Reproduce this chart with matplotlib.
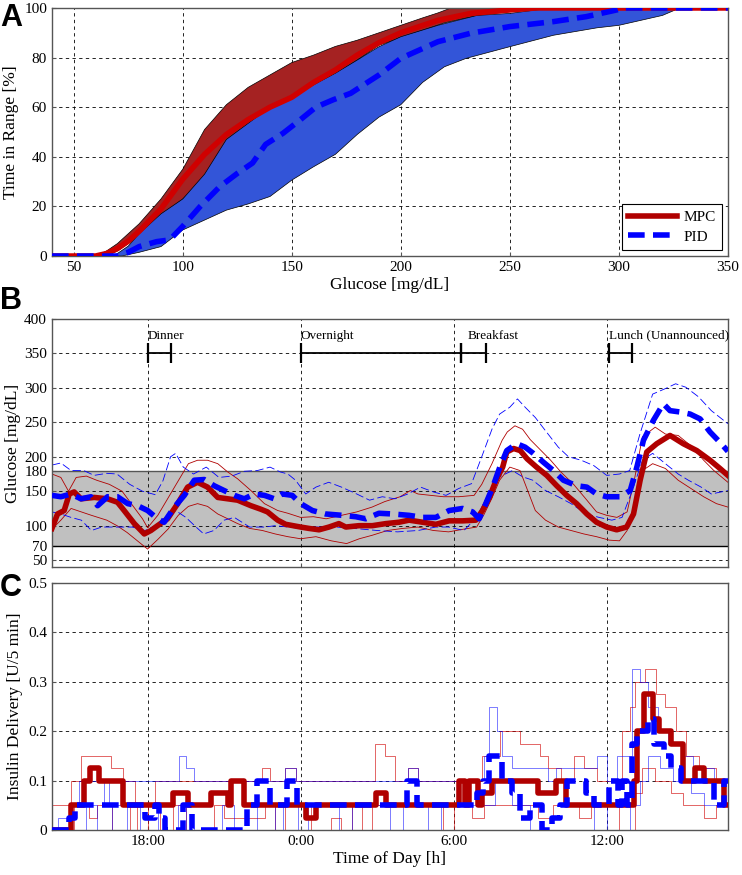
import matplotlib
matplotlib.use("Agg")
import matplotlib.pyplot as plt
from matplotlib.lines import Line2D

plt.rcParams["font.family"] = ["Liberation Serif", "DejaVu Serif"]
plt.rcParams["font.size"] = 11

# ---- panel A: cumulative time in range vs glucose ----
mpc_up_x = [40, 60, 65, 70, 75, 80, 90, 100, 110, 120, 130, 140, 150, 160, 170, 180, 190, 200, 210, 217, 223, 350]
mpc_up_y = [0, 0, 2, 5, 9, 13, 23, 35, 51, 61, 68, 73, 78, 81, 84.5, 87, 90, 93, 96, 98, 100, 100]
mpc_med_x = [40, 60, 65, 70, 75, 80, 90, 100, 110, 120, 130, 140, 150, 160, 170, 180, 190, 200, 217, 232, 250, 262, 350]
mpc_med_y = [0, 0, 1, 3, 6, 10, 19, 31, 41, 49, 55, 60, 64, 70, 75, 81, 86, 90, 95, 97.8, 99.2, 100, 100]
mpc_lo_x = [40, 65, 70, 75, 80, 90, 100, 110, 120, 130, 140, 150, 160, 170, 180, 190, 200, 210, 220, 230, 240, 250, 260, 270, 350]
mpc_lo_y = [0, 0, 2, 5, 8, 16, 23, 31, 44, 52, 59, 63, 68, 73, 79, 85, 88, 91, 94, 96, 97.5, 98.5, 99.5, 100, 100]

pid_up_x = [40, 68, 70, 75, 80, 90, 100, 110, 120, 130, 140, 150, 160, 170, 180, 190, 200, 217, 235, 250, 262, 272, 350]
pid_up_y = [0, 0, 1, 4, 9, 17, 23, 33, 47, 53.5, 60, 64, 69, 73.7, 79, 84.4, 88.4, 93, 97, 97.8, 99.2, 100, 100]
pid_med_x = [40, 70, 75, 80, 88, 94, 100, 108, 117, 125, 132, 138, 146, 154, 161, 169, 177, 184, 190, 200, 217, 232, 250, 270, 285, 299, 302, 350]
pid_med_y = [0, 0, 1.5, 3.8, 5.8, 6.5, 12, 20, 28, 33.3, 37.5, 45, 49.5, 55, 60, 63, 65.6, 69.6, 73, 79.7, 86.4, 89.8, 92.5, 94.5, 96.5, 99.2, 100, 100]
pid_lo_x = [40, 72, 80, 90, 100, 110, 120, 130, 140, 150, 160, 170, 180, 190, 200, 210, 220, 230, 250, 270, 290, 300, 310, 320, 328, 350]
pid_lo_y = [0, 0, 1.5, 3.8, 10.5, 14.5, 18.5, 21, 24, 30.6, 36, 41, 49, 56, 61, 70, 76.3, 79.7, 84.4, 89, 92, 93, 95, 97, 100, 100]

# ---- panel B: glucose over the day (hours, 24 = midnight) ----
mpc_t = [14.25, 14.47, 14.73, 14.93, 15.12, 15.39, 15.91, 16.43, 16.82, 17.08, 17.48, 17.87, 18.13, 18.39, 18.78,
         19.18, 19.57, 19.96, 20.35, 20.75, 21.14, 21.53, 22.05, 22.43, 22.7, 23.1, 23.41, 24.0, 24.33, 24.72,
         25.11, 25.5, 25.77, 26.29, 26.81, 27.34, 27.86, 28.25, 28.78, 29.3, 29.82, 30.35, 30.87, 31.13, 31.4,
         31.66, 31.92, 32.08, 32.35, 32.61, 32.88, 33.25, 33.65, 34.04, 34.43, 34.82, 35.22, 35.6, 36.0, 36.39,
         36.78, 37.05, 37.31, 37.57, 37.96, 38.48, 39.0, 39.53, 40.05, 40.44, 40.75]
mpc_g = [96, 117, 122, 146, 149, 139, 141, 139, 134, 122, 103, 88, 93, 100, 110,
         132, 156, 163, 156, 141, 139, 137, 129, 124, 120, 108, 102, 98, 96, 94,
         98, 103, 98, 100, 100, 103, 105, 108, 105, 102, 107, 107, 108, 122, 141,
         166, 185, 207, 212, 209, 197, 185, 173, 158, 144, 132, 117, 105, 98, 94,
         98, 117, 166, 207, 219, 231, 219, 209, 195, 183, 173]

pid_t = [14.25, 14.6, 14.99, 15.39, 15.78, 16.04, 16.43, 16.82, 17.22, 17.61, 18.0, 18.39, 18.65, 19.05, 19.44,
         19.83, 20.22, 20.61, 21.0, 21.4, 21.79, 22.18, 22.58, 22.97, 23.28, 23.67, 24.0, 24.46, 24.98, 25.64,
         26.16, 26.55, 27.07, 27.6, 28.25, 28.78, 29.3, 29.82, 30.35, 30.74, 31.0, 31.26, 31.53, 31.79, 32.08,
         32.47, 32.8, 33.12, 33.52, 33.91, 34.3, 34.82, 35.22, 35.6, 36.0, 36.52, 36.92, 37.18, 37.44, 37.83,
         38.22, 38.48, 38.88, 39.27, 39.66, 40.05, 40.44, 40.75]
pid_g = [144, 142, 146, 139, 142, 129, 142, 142, 132, 129, 122, 110, 105, 127, 144,
         166, 167, 158, 151, 144, 139, 146, 144, 139, 146, 144, 132, 122, 117, 115,
         113, 110, 118, 117, 115, 112, 112, 122, 125, 120, 110, 132, 156, 183, 209,
         219, 214, 205, 192, 180, 166, 158, 156, 146, 142, 142, 151, 185, 224, 253,
         277, 267, 265, 262, 255, 236, 221, 208]

mpc_hi_t = [14.25, 14.6, 14.9, 15.2, 15.6, 16.0, 16.5, 17.0, 17.4, 17.8, 18.0, 18.4, 18.8, 19.2, 19.6, 19.96,
            20.35, 20.75, 21.14, 21.53, 22.05, 22.58, 23.1, 23.5, 24.0, 24.5, 25.0, 25.6, 26.2, 26.8, 27.3,
            27.9, 28.3, 28.6, 29.1, 29.6, 30.2, 30.8, 31.1, 31.5, 31.9, 32.1, 32.4, 32.7, 33.0, 33.4, 33.8,
            34.2, 34.7, 35.2, 35.6, 36.0, 36.4, 36.8, 37.1, 37.4, 37.9, 38.3, 38.8, 39.3, 39.8, 40.2, 40.75]
mpc_hi_g = [175, 170, 150, 170, 172, 166, 160, 150, 130, 110, 97, 115, 140, 165, 190, 195,
            195, 190, 178, 168, 151, 132, 122, 118, 112, 113, 110, 115, 120, 127, 135,
            142, 151, 146, 144, 142, 142, 144, 160, 190, 224, 236, 245, 240, 225, 210, 195,
            178, 160, 138, 120, 115, 112, 120, 170, 229, 243, 233, 231, 216, 195, 180, 163]
mpc_lo_t = [14.25, 14.6, 15.0, 15.4, 15.8, 16.4, 16.8, 17.2, 17.6, 18.0, 18.4, 18.8, 19.2, 19.6, 19.96,
            20.35, 20.75, 21.14, 21.53, 22.0, 22.5, 23.0, 23.5, 24.0, 24.6, 25.2, 25.8, 26.3, 26.8, 27.4,
            28.0, 28.6, 29.2, 29.8, 30.4, 30.9, 31.2, 31.5, 31.8, 32.2, 32.6, 32.9, 33.2, 33.6, 34.1,
            34.6, 35.1, 35.6, 36.1, 36.5, 36.8, 37.1, 37.4, 37.8, 38.3, 38.8, 39.3, 39.8, 40.3, 40.75]
mpc_lo_g = [95, 108, 125, 120, 115, 108, 100, 90, 78, 66, 80, 95, 115, 128, 132,
            128, 117, 110, 103, 96, 93, 88, 84, 81, 84, 78, 74, 81, 86, 93,
            96, 98, 93, 91, 95, 98, 117, 140, 166, 185, 180, 151, 122, 108, 98,
            93, 88, 84, 79, 78, 93, 132, 180, 190, 183, 166, 154, 142, 132, 127]

pid_hi_t = [14.25, 14.6, 15.0, 15.5, 15.9, 16.4, 16.8, 17.3, 17.8, 18.3, 18.6, 18.9, 19.1, 19.4, 19.8, 20.3,
            20.8, 21.3, 21.8, 22.3, 22.8, 23.2, 23.5, 23.8, 24.2, 24.6, 25.1, 25.6, 26.2, 26.7, 27.2,
            27.7, 28.2, 28.7, 29.2, 29.7, 30.2, 30.7, 31.1, 31.5, 31.8, 32.2, 32.5, 32.8, 33.2, 33.7,
            34.1, 34.5, 35.0, 35.5, 36.0, 36.5, 36.9, 37.3, 37.8, 38.3, 38.7, 39.1, 39.6, 40.1, 40.75]
pid_hi_g = [188, 191, 180, 180, 173, 176, 175, 160, 150, 145, 165, 200, 205, 185, 175, 185,
            170, 172, 179, 180, 185, 178, 175, 166, 146, 156, 163, 156, 146, 137, 142,
            139, 146, 156, 149, 144, 154, 161, 200, 240, 262, 272, 284, 272, 257, 233,
            214, 200, 195, 187, 173, 175, 180, 233, 291, 299, 306, 301, 287, 267, 248]
pid_lo_t = [14.25, 14.6, 15.0, 15.4, 15.8, 16.2, 16.8, 17.4, 17.9, 18.3, 18.6, 19.1, 19.5, 19.9, 20.2,
            20.6, 21.0, 21.4, 22.0, 22.6, 23.0, 23.5, 24.0, 24.6, 25.4, 26.1, 27.0, 27.8, 28.6, 29.3,
            29.8, 30.4, 30.9, 31.3, 31.8, 32.3, 32.7, 33.1, 33.6, 34.1, 34.6, 35.2, 35.7, 36.2, 36.6,
            37.0, 37.4, 37.8, 38.3, 38.8, 39.2, 39.7, 40.1, 40.75]
pid_lo_g = [120, 117, 112, 108, 93, 98, 98, 98, 93, 100, 105, 122, 112, 98, 88,
            93, 108, 112, 98, 98, 100, 98, 96, 98, 98, 96, 93, 91, 93, 98,
            98, 93, 112, 142, 171, 180, 171, 166, 151, 142, 132, 117, 112, 108, 112,
            151, 195, 205, 190, 175, 166, 156, 146, 151]

meals = ["Dinner", "Overnight", "Breakfast", "Lunch (Unannounced)"]
meal_start = [18.0, 24.0, 30.3, 36.1]
meal_end = [18.9, 30.3, 31.25, 37.0]
meal_text_x = [18.0, 24.0, 30.55, 36.1]

# ---- panel C: insulin delivery (step values, U/5 min) ----
mpc_ins_t = [14.25, 15.0, 15.52, 15.75, 16.1, 17.02, 18.98, 19.6, 20.48, 21.14, 21.27, 21.78, 24.2, 24.6,
             26.94, 27.33, 30.2, 30.45, 30.6, 30.95, 31.12, 31.5, 33.3, 34.0, 34.4, 37.05, 37.2, 37.45,
             37.8, 38.05, 38.5, 39.0, 39.45, 39.8, 40.6, 40.75]
mpc_ins = [0, 0.05, 0.1, 0.125, 0.1, 0.05, 0.075, 0.05, 0.075, 0.05, 0.1, 0.05, 0.025, 0.05,
           0.075, 0.05, 0.1, 0.05, 0.1, 0.05, 0.075, 0.1, 0.075, 0.1, 0.05, 0.1, 0.2, 0.275,
           0.225, 0.2, 0.175, 0.1, 0.125, 0.1, 0.05, 0.05]
pid_ins_t = [14.25, 14.9, 15.15, 17.9, 18.3, 18.45, 18.7, 19.4, 19.75, 21.9, 22.3, 22.8, 23.45, 23.85,
             28.18, 28.58, 30.9, 31.15, 31.4, 31.9, 32.3, 32.6, 33.0, 33.45, 33.85, 34.15, 34.45, 35.2,
             35.5, 36.1, 36.45, 36.6, 36.8, 37.0, 37.2, 37.6, 37.85, 38.25, 38.5, 38.9, 40.2, 40.6, 40.75]
pid_ins = [0, 0.025, 0.05, 0.025, 0.05, 0.025, 0, 0.05, 0, 0.05, 0.1, 0.05, 0.1, 0.05,
           0.1, 0.05, 0.075, 0.1, 0.15, 0.1, 0.075, 0.025, 0.05, 0, 0.025, 0.05, 0.1, 0.075,
           0.05, 0.1, 0.05, 0.1, 0.05, 0.175, 0.2, 0.225, 0.175, 0.15, 0.125, 0.1, 0.05, 0.1, 0.1]

mpc_ins_hi_t = [14.25, 15.0, 15.4, 16.55, 17.05, 17.5, 18.3, 22.5, 22.8, 23.4, 23.8, 26.9, 27.3, 27.7,
                28.2, 28.6, 31.1, 31.8, 32.6, 33.4, 33.7, 34.2, 34.7, 35.1, 35.6, 36.6, 36.9, 37.1,
                37.5, 37.95, 38.3, 38.7, 39.1, 39.6, 40.3, 40.75]
mpc_ins_hi = [0.05, 0.1, 0.15, 0.125, 0.1, 0.05, 0.1, 0.125, 0.1, 0.125, 0.1, 0.175, 0.15, 0.1,
              0.125, 0.1, 0.15, 0.2, 0.175, 0.15, 0.125, 0.1, 0.15, 0.125, 0.1, 0.2, 0.25, 0.3,
              0.325, 0.275, 0.25, 0.2, 0.15, 0.125, 0.1, 0.1]
mpc_ins_lo_t = [14.25, 15.1, 15.7, 16.0, 16.6, 17.3, 17.6, 18.0, 18.5, 19.0, 19.5, 20.6, 21.0, 22.6, 23.0,
                23.4, 24.4, 25.2, 25.6, 26.0, 26.4, 26.8, 29.6, 30.0, 30.7, 31.2, 33.3, 33.9, 34.9, 35.4,
                36.5, 37.1, 37.4, 37.9, 38.5, 39.0, 39.8, 40.3, 40.75]
mpc_ins_lo = [0, 0.05, 0.025, 0.05, 0, 0.05, 0, 0.05, 0, 0.05, 0, 0.05, 0.025, 0.05, 0,
              0.05, 0, 0.025, 0, 0.05, 0, 0.05, 0, 0.05, 0.025, 0.05, 0.025, 0.05, 0.025, 0.05,
              0, 0.075, 0.125, 0.1, 0.075, 0.05, 0.025, 0.05, 0.05]
pid_ins_hi_t = [14.25, 14.5, 14.9, 15.3, 16.3, 16.5, 19.25, 19.5, 19.8, 23.4, 23.8, 28.2, 28.6, 31.2,
                31.4, 31.7, 31.9, 32.3, 33.7, 34.0, 35.6, 36.0, 36.4, 37.0, 37.3, 37.6, 38.0, 38.4,
                38.9, 39.4, 40.2, 40.75]
pid_ins_hi = [0, 0.025, 0.05, 0.1, 0.05, 0.1, 0.15, 0.125, 0.1, 0.125, 0.1, 0.125, 0.1, 0.15,
              0.25, 0.2, 0.15, 0.125, 0.1, 0.125, 0.15, 0.1, 0.15, 0.325, 0.3, 0.25, 0.2, 0.175,
              0.15, 0.125, 0.1, 0.1]
pid_ins_lo_t = [14.25, 15.6, 16.0, 16.6, 17.2, 17.7, 18.4, 19.2, 19.5, 20.9, 21.4, 22.3, 23.0, 23.3,
                23.9, 24.3, 25.5, 26.0, 27.5, 28.0, 29.0, 29.5, 31.6, 32.3, 33.0, 35.5, 36.0, 36.9,
                37.3, 37.6, 38.1, 38.6, 39.3, 39.8, 40.3, 40.75]
pid_ins_lo = [0, 0.05, 0, 0.05, 0, 0.05, 0, 0.05, 0, 0.05, 0, 0.05, 0, 0.05,
              0, 0.05, 0, 0.05, 0, 0.05, 0, 0.05, 0.1, 0.05, 0, 0.05, 0, 0.05,
              0.1, 0.15, 0.125, 0.1, 0.075, 0.05, 0.05, 0.05]

hour_ticks = [18, 24, 30, 36]
hour_labels = ["18:00", "0:00", "6:00", "12:00"]

RED = "#b00000"
RED_BAND = "#a52222"
RED_LINE = "#d00000"
BLUE = "#0000ff"
BLUE_BAND = "#3355d8"
GRID = dict(color="k", linestyle=(0, (4, 4)), linewidth=0.6)

fig = plt.figure(figsize=(7.42, 8.75), dpi=100)
axA = fig.add_axes([0.070, 0.7074, 0.911, 0.2835])
axB = fig.add_axes([0.070, 0.352, 0.911, 0.2834])
axC = fig.add_axes([0.070, 0.0514, 0.911, 0.2823])

for ax in (axA, axB, axC):
    ax.set_axisbelow(True)
    ax.grid(True, **GRID)
    for s in ax.spines.values():
        s.set_color("#555555")
        s.set_linewidth(1.0)
    ax.tick_params(direction="in", length=3, labelsize=11, color="#555555")

# panel A
axA.fill(mpc_up_x + mpc_lo_x[::-1], mpc_up_y + mpc_lo_y[::-1], facecolor=RED_BAND,
         edgecolor="k", linewidth=0.5, zorder=1)
axA.fill(pid_up_x + pid_lo_x[::-1], pid_up_y + pid_lo_y[::-1], facecolor=BLUE_BAND,
         edgecolor="k", linewidth=0.5, zorder=2)
axA.plot(mpc_med_x, mpc_med_y, color=RED_LINE, lw=4, solid_capstyle="butt", zorder=3)
axA.plot(pid_med_x, pid_med_y, color=BLUE, lw=4, linestyle=(0, (3, 1.5)), zorder=4)
axA.set_xlim(40, 350)
axA.set_ylim(0, 100)
axA.set_xticks([50, 100, 150, 200, 250, 300, 350])
axA.set_yticks([0, 20, 40, 60, 80, 100])
axA.set_xlabel("Glucose [mg/dL]", fontsize=12.5, labelpad=2)
axA.set_ylabel("Time in Range [%]", fontsize=12.5, labelpad=4)
handles = [Line2D([], [], color=RED, lw=4), Line2D([], [], color=BLUE, lw=4, linestyle=(0, (3, 1.5)))]
leg = axA.legend(handles, ["MPC", "PID"], loc="lower right", fancybox=False, framealpha=1,
                 edgecolor="k", fontsize=11, handlelength=3.2, borderaxespad=0.4,
                 handletextpad=0.4, labelspacing=0.4)
leg.get_frame().set_linewidth(0.8)

# panel B
axB.axhspan(70, 180, facecolor="#c0c0c0", edgecolor="none", zorder=0.2)
axB.axhline(180, color="#555555", lw=1.0, zorder=0.6)
axB.axhline(70, color="k", lw=1.0, zorder=0.6)
axB.plot(mpc_hi_t, mpc_hi_g, color=RED, lw=0.6, zorder=2)
axB.plot(mpc_lo_t, mpc_lo_g, color=RED, lw=0.6, zorder=2)
axB.plot(pid_hi_t, pid_hi_g, color=BLUE, lw=0.6, linestyle=(0, (10, 4)), zorder=2)
axB.plot(pid_lo_t, pid_lo_g, color=BLUE, lw=0.6, linestyle=(0, (10, 4)), zorder=2)
axB.plot(mpc_t, mpc_g, color=RED, lw=4, zorder=3)
axB.plot(pid_t, pid_g, color=BLUE, lw=4, linestyle=(0, (3, 1.5)), zorder=4)
for name, t0, t1, tx in zip(meals, meal_start, meal_end, meal_text_x):
    axB.plot([t0, t1], [350, 350], color="k", lw=1.3, zorder=5)
    axB.plot([t0, t1], [350, 350], color="k", lw=0, marker="|", markersize=14, mew=1.6, zorder=5)
    axB.text(tx, 367, name, fontsize=9.5, ha="left", va="bottom")
axB.set_xlim(14.25, 40.75)
axB.set_ylim(40, 400)
axB.set_yticks([50, 70, 100, 150, 180, 200, 250, 300, 350, 400])
axB.set_xticks(hour_ticks)
axB.set_xticklabels([])
axB.set_ylabel("Glucose [mg/dL]", fontsize=12.5, labelpad=2)

# panel C
axC.step(mpc_ins_hi_t, mpc_ins_hi, where="post", color=RED_LINE, lw=0.6, alpha=0.7, zorder=2)
axC.step(mpc_ins_lo_t, mpc_ins_lo, where="post", color=RED_LINE, lw=0.6, alpha=0.7, zorder=2)
axC.step(pid_ins_hi_t, pid_ins_hi, where="post", color=BLUE, lw=0.6, alpha=0.6, zorder=2)
axC.step(pid_ins_lo_t, pid_ins_lo, where="post", color=BLUE, lw=0.6, alpha=0.6, zorder=2)
axC.step(mpc_ins_t, mpc_ins, where="post", color=RED, lw=4, zorder=3)
axC.step(pid_ins_t, pid_ins, where="post", color=BLUE, lw=4, linestyle=(0, (3, 1.5)), zorder=4)
axC.set_xlim(14.25, 40.75)
axC.set_ylim(0, 0.5)
axC.set_yticks([0, 0.1, 0.2, 0.3, 0.4, 0.5])
axC.set_yticklabels(["0", "0.1", "0.2", "0.3", "0.4", "0.5"])
axC.set_xticks(hour_ticks)
axC.set_xticklabels(hour_labels)
axC.set_xlabel("Time of Day [h]", fontsize=12.5, labelpad=2)
axC.set_ylabel("Insulin Delivery [U/5 min]", fontsize=12.5, labelpad=4)

for letter, y in zip("ABC", [0.997, 0.673, 0.345]):
    fig.text(0.0, y, letter, fontsize=22, fontweight="bold", va="top", ha="left",
             family=["Liberation Sans", "DejaVu Sans"])

fig.savefig("out.png", dpi=100)
